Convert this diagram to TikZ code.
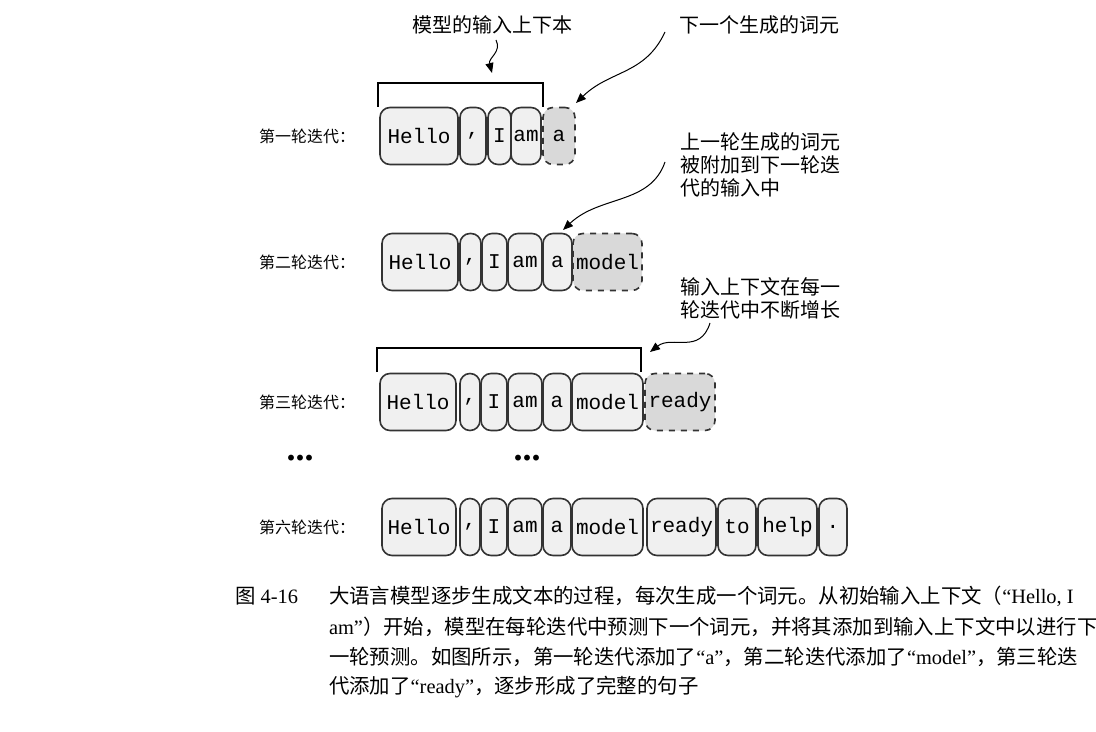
\documentclass[tikz,border=0pt]{standalone}
\usepackage{fontspec}
\setmainfont{Liberation Serif}
\newfontfamily\cjk{Noto Sans CJK SC}
\newfontfamily\mono{Liberation Mono}
\usetikzlibrary{arrows.meta}
\begin{document}
\begin{tikzpicture}[x=0.5pt,y=-0.5pt,
  tok/.style={draw=black!80,line width=0.8pt,rounded corners=5pt,fill=gray!12,minimum height=28.5pt,inner sep=0pt,font=\mono\fontsize{10.5}{12}\selectfont},
  new/.style={tok,dashed,fill=gray!30},
  lab/.style={font=\cjk\fontsize{8}{10}\selectfont,anchor=west},
  ann/.style={font=\cjk\fontsize{10}{11.5}\selectfont,align=left,anchor=north west},
  captxt/.style={font=\fontsize{10.2}{15}\selectfont,anchor=west},
  arr/.style={-{Triangle[length=5pt,width=4pt]},line width=0.5pt},
  br/.style={line width=0.8pt},
  dots/.style={font=\bfseries\fontsize{18}{18}\selectfont}]
\useasboundingbox (0,0) rectangle (1096,732);
\newcommand\tk[6][tok]{\node[#1,minimum width={(#4-#3)*0.5pt}] (#2) at ({(#3+#4)/2},#5) {#6};}
% row 1
\node[lab] (l1) at (252,136) {第一轮迭代：};
\tk{a1}{380}{458}{136}{Hello}\tk{a2}{460}{486}{136}{,}\tk{a3}{488}{511}{136}{I}\tk{a4}{511}{541}{136}{am}\tk[new]{a5}{543}{575}{136}{a}
% row 2
\node[lab] (l2) at (252,262) {第二轮迭代：};
\tk{b1}{382}{458}{262}{Hello}\tk{b2}{460}{481}{262}{,}\tk{b3}{482}{507}{262}{I}\tk{b4}{508}{542}{262}{am}\tk{b5}{543}{572}{262}{a}\tk[new]{b6}{573}{642}{262}{model}
% row 3
\node[lab] (l3) at (252,402) {第三轮迭代：};
\tk{c1}{380}{456}{402}{Hello}\tk{c2}{460}{480}{402}{,}\tk{c3}{481}{507}{402}{I}\tk{c4}{508}{542}{402}{am}\tk{c5}{543}{571}{402}{a}\tk{c6}{572}{643}{402}{model}\tk[new]{c7}{645}{715}{402}{ready}
% row 6
\node[lab] (l6) at (252,527) {第六轮迭代：};
\tk{d1}{382}{456}{527}{Hello}\tk{d2}{460}{480}{527}{,}\tk{d3}{481}{507}{527}{I}\tk{d4}{508}{542}{527}{am}\tk{d5}{543}{571}{527}{a}\tk{d6}{572}{643}{527}{model}\tk{d7}{647}{716}{527}{ready}\tk{d8}{718}{756}{527}{to}\tk{d9}{758}{817}{527}{help}\tk{d10}{819}{847}{527}{.}
% dots
\node[dots] (dl) at (300,458) {...};
\node[dots] (dm) at (527,458) {...};
% brackets
\draw[br] (378,107) -- (378,83) -- (543,83) -- (543,107);
\draw[br] (377,372) -- (377,348) -- (641,348) -- (641,372);
% annotations
\node[font=\cjk\fontsize{10}{11.5}\selectfont] (t1) at (492,25) {模型的输入上下本};
\draw[arr] (496,40) .. controls (502,52) and (488,58) .. (492,73);
\node[ann,anchor=west] (t2) at (672,25) {下一个生成的词元};
\draw[arr] (665,32) .. controls (645,75) and (610,70) .. (576,103);
\node[ann] (t3) at (673,126) {上一轮生成的词元\\被附加到下一轮迭\\代的输入中};
\draw[arr] (665,162) .. controls (650,205) and (600,195) .. (563,230);
\node[ann] (t4) at (673,270) {输入上下文在每一\\轮迭代中不断增长};
\draw[arr] (710,323) .. controls (700,355) and (672,335) .. (650,352);
% caption
\node[captxt] (c0) at (228,596) {{\cjk 图} 4-16};
\node[captxt] (cl1) at (322,596) {{\cjk 大语言模型逐步生成文本的过程，每次生成一个词元。从初始输入上下文（}“Hello, I};
\node[captxt] (cl2) at (322,627) {am”{\cjk ）开始，模型在每轮迭代中预测下一个词元，并将其添加到输入上下文中以进行下}};
\node[captxt] (cl3) at (322,657) {{\cjk 一轮预测。如图所示，第一轮迭代添加了}“a”{\cjk ，第二轮迭代添加了}“model”{\cjk ，第三轮迭}};
\node[captxt] (cl4) at (322,687) {{\cjk 代添加了}“ready”{\cjk ，逐步形成了完整的句子}};
\end{tikzpicture}
\end{document}
